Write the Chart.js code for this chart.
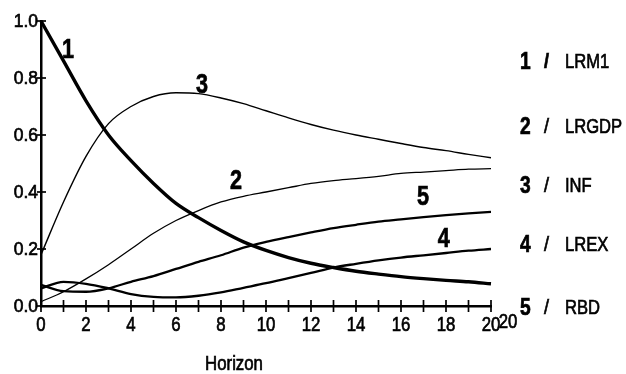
<!DOCTYPE html>
<html>
<head>
<meta charset="utf-8">
<script src="https://cdn.jsdelivr.net/npm/chart.js@4"></script>
<style>
  html, body { margin: 0; padding: 0; background: #fff; }
  #wrap { width: 626px; height: 374px; }
</style>
</head>
<body>
<div id="wrap"><canvas id="myChart" width="626" height="374"></canvas></div>
<script>
const horizon = [0,1,2,3,4,5,6,7,8,9,10,11,12,13,14,15,16,17,18,19,20];
const lrm1  = [1.0,0.86,0.72,0.60,0.51,0.43,0.36,0.31,0.265,0.225,0.195,0.17,0.15,0.135,0.122,0.112,0.103,0.096,0.09,0.085,0.078];
const lrgdp = [0.015,0.05,0.095,0.145,0.20,0.255,0.30,0.335,0.365,0.385,0.40,0.415,0.43,0.44,0.447,0.455,0.465,0.47,0.475,0.48,0.482];
const inf   = [0.18,0.365,0.525,0.64,0.70,0.735,0.748,0.745,0.73,0.71,0.685,0.66,0.637,0.617,0.60,0.585,0.57,0.556,0.545,0.532,0.52];
const lrex  = [0.062,0.085,0.078,0.062,0.042,0.032,0.03,0.036,0.048,0.064,0.08,0.098,0.116,0.135,0.148,0.16,0.17,0.178,0.186,0.194,0.20];
const rbd   = [0.074,0.052,0.05,0.062,0.085,0.105,0.13,0.155,0.178,0.205,0.225,0.242,0.258,0.273,0.285,0.296,0.304,0.312,0.319,0.325,0.33];
const seriesNames = ['LRM1','LRGDP','INF','LREX','RBD'];
const seriesData = [lrm1, lrgdp, inf, lrex, rbd];
const lineWidths = [3.4, 1.3, 1.4, 2.3, 2.3];

const FONT = "'Liberation Sans', Arial, sans-serif";

// where the curve numbers sit (in data units)
const curveTags = [[1.2,0.898],[8.67,0.435],[7.16,0.775],[17.9,0.232],[16.98,0.379]];

// narrow text: squeeze Liberation Sans to look like Arial Narrow, a little heavier like the scan
function narrowText(ctx, txt, x, y, font, align, sx) {
  ctx.save();
  ctx.translate(x, y);
  ctx.scale(sx, 1);
  ctx.font = font;
  ctx.textAlign = align;
  ctx.textBaseline = 'middle';
  ctx.lineWidth = 0.7;
  ctx.fillText(txt, 0, 0);
  ctx.strokeText(txt, 0, 0);
  ctx.restore();
}

const decorations = {
  id: 'decorations',
  afterDraw(chart) {
    const ctx = chart.ctx;
    const xs = chart.scales.x, ys = chart.scales.y;
    const y0 = ys.getPixelForValue(0);
    const x0 = xs.getPixelForValue(0);
    ctx.save();
    ctx.strokeStyle = '#000';
    ctx.fillStyle = '#000';
    ctx.lineWidth = 1.7;
    // crossing tick marks + tick labels
    xs.ticks.forEach(t => {
      const px = xs.getPixelForValue(t.value);
      ctx.beginPath(); ctx.moveTo(px, y0 - 6); ctx.lineTo(px, y0 + 6); ctx.stroke();
      if (t.value % 2 === 0) narrowText(ctx, String(t.value), px, y0 + 19, '21px ' + FONT, 'center', 0.8);
    });
    ys.ticks.forEach(t => {
      const py = ys.getPixelForValue(t.value);
      ctx.lineWidth = 1.7;
      ctx.beginPath(); ctx.moveTo(x0 - 4, py); ctx.lineTo(x0 + 5, py); ctx.stroke();
      narrowText(ctx, t.value.toFixed(1), x0 - 3, py + 1, '19px ' + FONT, 'right', 0.92);
    });
    // curve numbers
    curveTags.forEach((p, i) => {
      narrowText(ctx, String(i + 1), xs.getPixelForValue(p[0]), ys.getPixelForValue(p[1]), 'bold 27px ' + FONT, 'center', 0.8);
    });
    // key on the right
    const rows = [61, 126, 185, 244, 307];
    seriesNames.forEach((n, i) => {
      narrowText(ctx, String(i + 1), 520, rows[i] + 1, 'bold 24px ' + FONT, 'left', 0.8);
      narrowText(ctx, '/', 544, rows[i] + 1, (i === 0 ? 'bold ' : '') + '20px ' + FONT, 'left', 0.9);
      narrowText(ctx, n, 565, rows[i] + 1, '21px ' + FONT, 'left', 0.79);
    });
    // axis title and stray label
    narrowText(ctx, 'Horizon', 234, 364, '20px ' + FONT, 'center', 0.84);
    narrowText(ctx, '20', xs.getPixelForValue(20) + 17, y0 + 16, '21px ' + FONT, 'center', 0.8);
    ctx.restore();
  }
};

const data = {
  datasets: seriesNames.map((n, i) => ({
    label: n,
    data: horizon.map((h, k) => ({ x: h, y: seriesData[i][k] })),
    borderColor: '#000',
    borderWidth: lineWidths[i],
    pointRadius: 0,
    cubicInterpolationMode: 'monotone',
    clip: 4,
    fill: false
  }))
};

const config = {
  type: 'line',
  data: data,
  options: {
    responsive: false,
    animation: false,
    layout: { padding: { top: 21, right: 135, left: 0, bottom: 0 } },
    plugins: { legend: { display: false }, tooltip: { enabled: false } },
    scales: {
      x: {
        type: 'linear', min: 0, max: 20,
        afterFit(scale) { scale.height = 68; },
        border: { display: true, color: '#000', width: 2.5 },
        grid: { display: true, drawOnChartArea: false, drawTicks: false },
        ticks: { stepSize: 1, display: false, autoSkip: false }
      },
      y: {
        min: 0, max: 1,
        afterFit(scale) { scale.width = 41; },
        border: { display: true, color: '#000', width: 2.5 },
        grid: { display: true, drawOnChartArea: false, drawTicks: false },
        ticks: { stepSize: 0.2, display: false }
      }
    }
  },
  plugins: [decorations]
};

const myChart = new Chart(document.getElementById('myChart'), config);
</script>
</body>
</html>
